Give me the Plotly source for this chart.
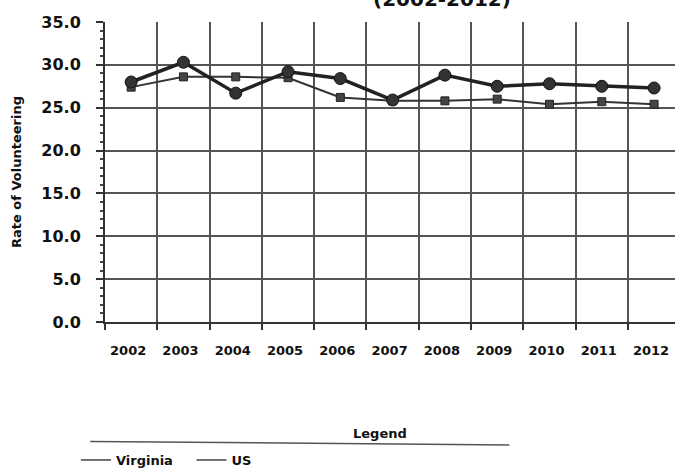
import plotly.graph_objects as go

years = ["2002", "2003", "2004", "2005", "2006", "2007", "2008", "2009", "2010", "2011", "2012"]
virginia = [28.0, 30.3, 26.7, 29.2, 28.4, 25.9, 28.8, 27.5, 27.8, 27.5, 27.3]
us = [27.4, 28.6, 28.6, 28.5, 26.2, 25.8, 25.8, 26.0, 25.4, 25.7, 25.4]
y_ticks = [0, 5, 10, 15, 20, 25, 30, 35]

bold = "DejaVu Sans"
ink = "#222222"

fig = go.Figure()
fig.add_trace(go.Scatter(x=years, y=us, name="US", mode="lines+markers",
                         line=dict(color="#333333", width=2),
                         marker=dict(symbol="square", size=8, color="#444444",
                                     line=dict(color="#222222", width=1)),
                         showlegend=False))
fig.add_trace(go.Scatter(x=years, y=virginia, name="Virginia", mode="lines+markers",
                         line=dict(color=ink, width=3.5),
                         marker=dict(symbol="circle", size=12, color="#333333",
                                     line=dict(color="#111111", width=1)),
                         showlegend=False))
# legend entries show only a thin line
for nm in ["Virginia   ", "US"]:
    fig.add_trace(go.Scatter(x=[None], y=[None], name=nm, mode="lines",
                             line=dict(color="#444444", width=1.5)))

fig.update_layout(
    width=675, height=470,
    margin=dict(l=105, r=0, t=22, b=148, autoexpand=False),
    plot_bgcolor="white", paper_bgcolor="white",
    font=dict(family=bold, color=ink),
    showlegend=True,
    legend=dict(orientation="h", x=-0.051, xanchor="left", y=-0.46, yanchor="middle",
                font=dict(size=13, family=bold, weight="bold", color="#111111"),
                itemwidth=30, tracegroupgap=0, bgcolor="rgba(0,0,0,0)"),
)
fig.update_xaxes(
    type="category", range=[-0.5, 10.4], tickson="boundaries",
    showgrid=True, gridcolor="#555555", gridwidth=1.5,
    showline=True, linecolor="#333333", linewidth=2,
    ticks="outside", ticklen=6, tickwidth=2, tickcolor="#333333",
    tickfont=dict(size=13, family=bold, weight="bold", color="#111111"),
    ticklabelstandoff=15, ticklabelshift=-3, automargin=False,
)
fig.update_yaxes(
    range=[0, 35], tickvals=y_ticks, ticktext=[f"{v:.1f}" for v in y_ticks],
    showgrid=True, gridcolor="#555555", gridwidth=1.5,
    showline=True, linecolor="#333333", linewidth=2,
    ticks="outside", ticklen=7, tickwidth=2, tickcolor="#333333",
    minor=dict(dtick=1, ticks="outside", ticklen=3, tickcolor="#444444", showgrid=False),
    tickfont=dict(size=16, family=bold, weight="bold", color="#111111"),
    ticklabelstandoff=12, automargin=False,
    zeroline=False,
    title=dict(text="Rate of Volunteering", standoff=17,
               font=dict(size=13, family=bold, weight="bold", color="#111111")),
)

# title partially cropped at top, as in the scanned original
fig.add_annotation(text="(2002-2012)", xref="paper", yref="paper", x=0.591, y=1.03,
                   xanchor="center", yanchor="bottom", showarrow=False,
                   font=dict(size=20, family=bold, weight="bold", color="#111111"))
fig.add_annotation(text="Legend", xref="paper", yref="paper", x=0.482, y=-0.37,
                   xanchor="center", yanchor="middle", showarrow=False,
                   font=dict(size=13, family=bold, weight="bold", color="#111111"))
fig.add_shape(type="line", xref="paper", yref="paper", x0=-0.026, x1=0.71,
              y0=-0.398, y1=-0.41, line=dict(color="#555555", width=1.5))

fig.write_html("out.html", config={"displayModeBar": False},
               post_script="document.body.style.margin='0';document.body.style.overflow='hidden';")
